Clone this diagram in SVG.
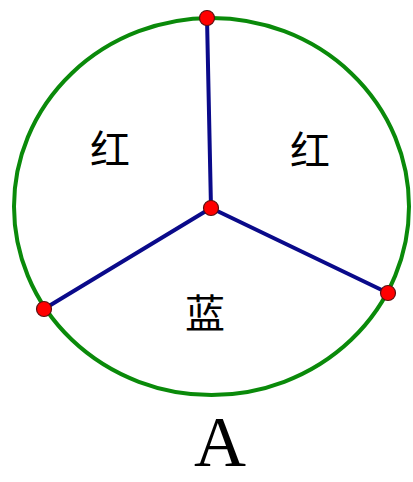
<svg xmlns="http://www.w3.org/2000/svg" width="413" height="482" viewBox="0 0 413 482">
<style>
.rim{fill:none;stroke:#0a8a0a;stroke-width:4}
.sp{stroke:#0a0a8a;stroke-width:4;stroke-linecap:round}
.pt{fill:#ff0000;stroke:#5a1010;stroke-width:1.2}
.lb{font-family:"Noto Sans CJK SC","Noto Sans CJK JP",sans-serif;font-size:40px;fill:#000;text-anchor:middle}
.tt{font-family:"Liberation Serif",serif;font-size:72px;fill:#000;text-anchor:middle}
</style>
<rect width="413" height="482" fill="#ffffff"/>
<g id="circle"><ellipse class="rim" cx="211.5" cy="206.5" rx="197.5" ry="188.5"/></g>
<g id="connectors">
<line class="sp" x1="211" y1="208" x2="207" y2="18"/>
<line class="sp" x1="211" y1="208" x2="44" y2="309"/>
<line class="sp" x1="211" y1="208" x2="388" y2="293"/>
</g>
<g id="points">
<circle class="pt" cx="207" cy="18" r="7.5"/>
<circle class="pt" cx="211" cy="208" r="7.5"/>
<circle class="pt" cx="44" cy="309" r="7.5"/>
<circle class="pt" cx="388" cy="293" r="7.5"/>
</g>
<g id="label-left"><text class="lb" x="110" y="164">红</text></g>
<g id="label-right"><text class="lb" x="310" y="165">红</text></g>
<g id="label-bottom"><text class="lb" x="205" y="328">蓝</text></g>
<g id="title"><text class="tt" x="220" y="466">A</text></g>
</svg>
